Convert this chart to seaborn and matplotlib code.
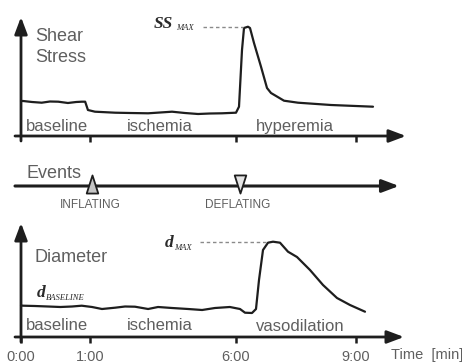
import numpy as np
import pandas as pd
import matplotlib
matplotlib.use("Agg")
import matplotlib.pyplot as plt
from matplotlib.path import Path
from matplotlib.markers import MarkerStyle
import seaborn as sns

# ---------------- data ----------------
# time axis knots (minutes) and tick labels
tick_times = [0, 1, 6, 9]
tick_labels = ["0:00", "1:00", "6:00", "9:00"]

# Shear stress curve (time in min, arbitrary amplitude)
ss_time = [0.0, 0.03, 0.16, 0.30, 0.42, 0.54, 0.68, 0.80, 0.88, 0.93, 0.97,
           1.17, 1.86, 2.37, 2.99, 3.40, 3.81, 4.25, 4.70, 5.11, 5.52, 6.0,
           6.075, 6.15, 6.2, 6.3, 6.35, 6.45, 6.625, 6.775, 6.875, 7.2, 7.55,
           8.375, 9.425]
ss_value = [35, 35, 34, 33.3, 34.5, 34.3, 33, 34, 34.3, 34.3, 26,
            24.3, 23.3, 23, 22.7, 23.5, 24.3, 23, 22, 22.5, 22.7, 23.3,
            29.3, 86, 108, 109.3, 108, 93, 69.3, 48, 43, 35.3, 33.3,
            31, 29.3]

# Diameter curve
d_time = [0.0, 0.03, 0.2, 0.39, 0.57, 0.74, 0.88, 1.07, 1.41, 1.86, 2.20,
          2.54, 2.99, 3.33, 3.81, 4.36, 4.84, 5.28, 5.79, 6.1, 6.225, 6.4,
          6.5, 6.575, 6.675, 6.8, 6.925, 7.1, 7.3, 7.525, 7.85, 8.175,
          8.525, 8.85, 9.225]
d_value = [31.5, 31.3, 31, 30.5, 30, 30.5, 31.3, 30, 28, 29.3, 30.5,
           30.3, 28, 30, 29, 28, 27, 29, 30, 28, 24.3, 24,
           28, 57, 87, 94.3, 95.3, 94.3, 85.3, 80, 67, 52,
           39, 32, 25.3]

# Events
event_time = [1.06, 6.09]
event_names = ["INFLATING", "DEFLATING"]

# ---------------- helpers ----------------
W, H = 462, 364
T_KN = [-10, 0, 1, 6, 9, 30]
P_KN = [-690, 0, 69, 215, 335, 1175]


def fwd(t):
    return np.interp(t, T_KN, P_KN)


def inv(p):
    return np.interp(p, P_KN, T_KN)


def t_of_px(px):
    return float(inv(px - 21))


def fx(px):
    return px / W


def fy(py):
    return 1 - py / H


sns.set_theme(style="white")
plt.rcParams["font.family"] = ["Liberation Sans", "DejaVu Sans"]

fig = plt.figure(figsize=(W / 100, H / 100), dpi=100)
fig.patch.set_facecolor("white")

AX_L, AX_R = 15, 412
DARK = "#1e1e1e"
GRAY_TXT = "#5f5f5f"


def make_ax(top_px, bot_px):
    ax = fig.add_axes([fx(AX_L), fy(bot_px), (AX_R - AX_L) / W, (bot_px - top_px) / H])
    ax.set_xscale("function", functions=(fwd, inv))
    ax.set_xlim(t_of_px(AX_L), t_of_px(AX_R))
    ax.set_ylim(0, bot_px - top_px)
    for s in ax.spines.values():
        s.set_visible(False)
    ax.set_facecolor("none")
    ax.set_yticks([])
    return ax


def h_arrow(ax, y, x_end_px, lw=2.0):
    ax.annotate("", xy=(t_of_px(x_end_px), y), xytext=(t_of_px(15), y),
                xycoords="data", textcoords="data", annotation_clip=False,
                arrowprops=dict(arrowstyle="-|>,head_length=0.85,head_width=0.32",
                                lw=lw, color=DARK, shrinkA=0, shrinkB=0))


def v_arrow(ax, top_val):
    ax.annotate("", xy=(0, top_val), xytext=(0, -5), xycoords="data",
                textcoords="data", annotation_clip=False,
                arrowprops=dict(arrowstyle="-|>,head_length=0.85,head_width=0.32",
                                lw=2.0, color=DARK, shrinkA=0, shrinkB=0))


# ---------------- top: shear stress ----------------
ax1 = make_ax(17, 136)
sns.lineplot(x=ss_time, y=ss_value, ax=ax1, sort=False, estimator=None,
             color=DARK, lw=1.6)
h_arrow(ax1, 0, 406)
v_arrow(ax1, 119)
ax1.set_xticks(tick_times[1:])
ax1.set_xticklabels([])
ax1.tick_params(axis="x", direction="out", length=4, width=1.8, color=DARK,
                bottom=True)
ax1.set_xlabel("")
ax1.hlines(max(ss_value), t_of_px(203), t_of_px(243), colors="#8a8a8a",
           linestyles=(0, (2.5, 2)), lw=1.0)

# ---------------- events ----------------
ax2 = make_ax(171, 201)
ax2.set_xticks([])
h_arrow(ax2, 15, 399, lw=2.2)
ev_df = pd.DataFrame({"t": event_time, "y": [17.5, 17.5]})
codes = [Path.MOVETO, Path.LINETO, Path.LINETO, Path.CLOSEPOLY]
up = MarkerStyle(Path([(-0.32, -0.5), (0.32, -0.5), (0, 0.5), (-0.32, -0.5)], codes))
dn = MarkerStyle(Path([(-0.32, 0.5), (0.32, 0.5), (0, -0.5), (-0.32, 0.5)], codes))
sns.scatterplot(data=ev_df.iloc[[0]], x="t", y="y", ax=ax2, marker=up, s=170,
                facecolor="#c4c4c4", edgecolor=DARK, linewidth=1.3, zorder=5)
sns.scatterplot(data=ev_df.iloc[[1]], x="t", y="y", ax=ax2, marker=dn, s=170,
                facecolor="#e4e4e4", edgecolor=DARK, linewidth=1.3, zorder=5)
ax2.set_xlabel("")
ax2.set_ylabel("")

# ---------------- bottom: diameter ----------------
ax3 = make_ax(223, 337)
sns.lineplot(x=d_time, y=d_value, ax=ax3, sort=False, estimator=None,
             color=DARK, lw=1.6)
h_arrow(ax3, 0, 404)
v_arrow(ax3, 114)
ax3.set_xticks(tick_times)
ax3.set_xticklabels(tick_labels)
ax3.tick_params(axis="x", direction="out", length=4, width=1.8, color=DARK,
                bottom=True, pad=5.5, labelsize=10.5, labelcolor=GRAY_TXT)
ax3.set_xlabel("")
ax3.hlines(max(d_value), t_of_px(200), t_of_px(268), colors="#8a8a8a",
           linestyles=(0, (2.5, 2)), lw=1.0)

# ---------------- texts ----------------
def txt(px, py, s, size, **kw):
    kw.setdefault("color", GRAY_TXT)
    fig.text(fx(px), fy(py), s, fontsize=size, va="baseline", ha="left", **kw)


txt(35, 41, "Shear", 13)
txt(35, 62.5, "Stress", 13)
txt(26, 130.5, "baseline", 12)
txt(127, 131, "ischemia", 12)
txt(256, 131, "hyperemia", 12)
txt(27, 178, "Events", 13)
txt(60, 208, event_names[0], 8.5)
txt(205, 208, event_names[1], 8.5)
txt(35, 261.5, "Diameter", 13)
txt(26, 330, "baseline", 12)
txt(127, 330, "ischemia", 12)
txt(256, 331, "vasodilation", 12)
txt(391, 359.5, "Time  [min]", 10.5)

serif = ["Liberation Serif", "DejaVu Serif"]
SUBC = "#2a2a2a"
txt(154, 28.5, "SS", 12.5, family=serif, weight="bold", style="italic", color=SUBC)
txt(176, 30.5, "MAX", 6.2, family=serif, style="italic", color=SUBC)
txt(165, 247, "d", 12.5, family=serif, weight="bold", style="italic", color=SUBC)
txt(174, 249.5, "MAX", 6.2, family=serif, style="italic", color=SUBC)
txt(37, 297, "d", 12.5, family=serif, weight="bold", style="italic", color=SUBC)
txt(46, 299.5, "BASELINE", 6.2, family=serif, style="italic", color=SUBC)

fig.savefig("out.png", dpi=100, facecolor="white")
